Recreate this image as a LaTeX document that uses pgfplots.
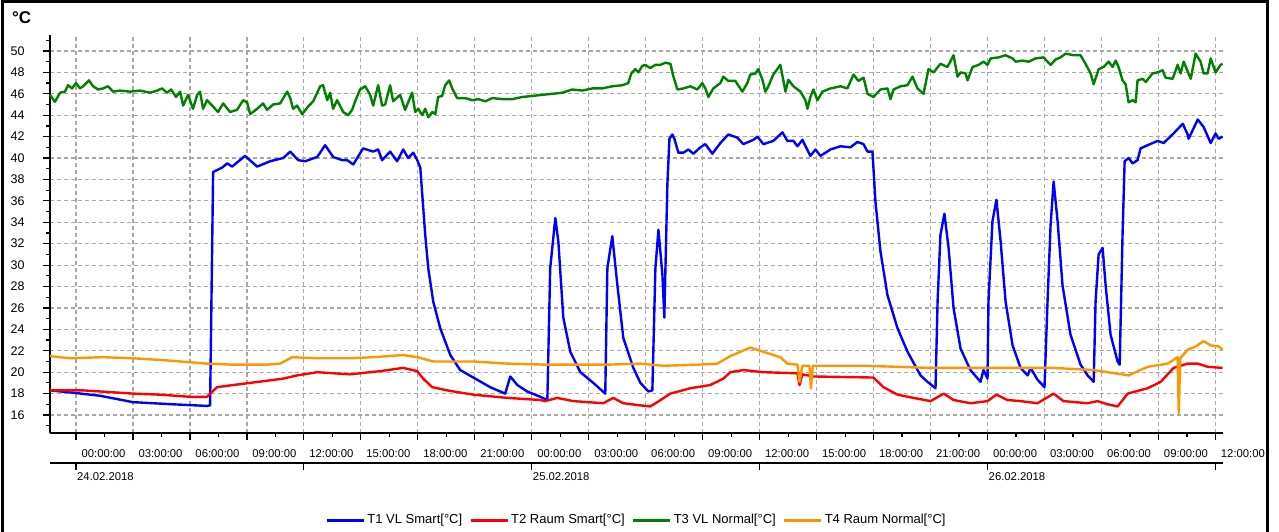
\documentclass[border=0pt]{standalone}
\usepackage{pgfplots}
\pgfplotsset{compat=1.18}
\usepackage{fontspec}
\setmainfont{Liberation Sans}
\definecolor{gridgray}{RGB}{168,168,168}
\definecolor{tblue}{RGB}{0,0,255}
\definecolor{tred}{RGB}{255,0,0}
\definecolor{tgreen}{RGB}{0,128,0}
\definecolor{torange}{RGB}{255,150,0}
\begin{document}
\begin{tikzpicture}[x=1pt,y=1pt]
\begin{axis}[
  scale only axis, width=1173pt, height=398pt,
  xmin=-1.37, xmax=60.4, ymin=14.32, ymax=51.49,
  axis lines*=left,
  axis line style={black, line width=1.3pt},
  clip=false,
  xtick={0,3,...,60},
  minor xtick={1.5,4.5,...,58.5},
  xticklabels={00:00:00,03:00:00,06:00:00,09:00:00,12:00:00,15:00:00,18:00:00,21:00:00,00:00:00,03:00:00,06:00:00,09:00:00,12:00:00,15:00:00,18:00:00,21:00:00,00:00:00,03:00:00,06:00:00,09:00:00,12:00:00},
  ytick={16,18,...,50},
  minor ytick={15,17,...,51},
  tick align=outside,
  major tick length=7pt, minor tick length=4pt,
  tick style={black, line width=1.2pt},
  grid=major,
  major grid style={gridgray, line width=1.2pt, dash pattern=on 4pt off 3pt},
  /pgf/number format/assume math mode=true,
  yticklabel style={font=\fontsize{12.5}{12.5}\selectfont, xshift=-15pt},
  xticklabel style={font=\fontsize{11.3}{12}\selectfont, anchor=north west, xshift=2pt, yshift=-6pt},
  legend columns=4,
  legend style={at={(0.5,-0.2186)}, anchor=center, draw=none, fill=none,
    font=\fontsize{13}{13}\selectfont, /tikz/every even column/.append style={column sep=5pt}},
  legend image code/.code={\draw[line width=3pt, #1] (0pt,0pt) -- (37pt,0pt);},
  every axis plot/.append style={line width=2.4pt, line join=round},
]
% T1 VL Smart
\addplot[tblue] coordinates {
(-1.37,18.3)(0,18.05)(1.26,17.8)(3.00,17.2)(5.11,17.0)(6.90,16.85)(7.06,16.9)(7.22,38.7)(7.69,39.1)(7.96,39.5)(8.22,39.2)(8.90,40.2)(9.54,39.2)(10.22,39.7)(10.91,40.0)(11.28,40.6)(11.70,39.8)(12.07,39.7)(12.70,40.1)(13.12,41.2)(13.54,40.1)(14.02,39.8)(14.28,39.8)(14.60,39.4)(15.12,40.9)(15.65,40.6)(15.91,40.8)(16.12,39.8)(16.54,40.6)(16.91,39.7)(17.23,40.8)(17.49,40.0)(17.76,40.5)(17.97,39.8)(18.13,39.1)(18.39,32.8)(18.55,29.7)(18.81,26.6)(19.18,24.1)(19.71,21.6)(20.23,20.2)(20.92,19.5)(21.81,18.6)(22.60,18.0)(22.87,19.6)(23.24,18.8)(23.76,18.2)(24.45,17.7)(24.82,17.4)(24.97,29.7)(25.24,34.4)(25.40,32.2)(25.66,25.1)(26.03,21.9)(26.56,20.0)(27.24,19.0)(27.87,18.0)(27.98,29.7)(28.24,32.7)(28.51,28.1)(28.82,23.2)(29.35,20.4)(29.72,19.0)(30.14,18.2)(30.35,18.3)(30.51,29.7)(30.67,33.3)(30.88,29.1)(30.98,25.1)(31.14,37.5)(31.25,41.8)(31.40,42.2)(31.51,41.8)(31.72,40.5)(31.98,40.5)(32.25,40.8)(32.51,40.4)(32.88,41.0)(33.14,41.3)(33.51,40.4)(33.93,41.4)(34.35,42.2)(34.83,41.9)(35.14,41.3)(35.67,41.7)(35.88,42.0)(36.20,41.3)(36.72,41.6)(37.20,42.4)(37.46,41.6)(37.78,41.6)(37.99,41.1)(38.25,41.7)(38.67,40.2)(38.94,40.8)(39.20,40.2)(39.73,40.8)(40.26,41.1)(40.78,41.0)(41.15,41.5)(41.47,41.3)(41.68,40.6)(41.94,40.6)(42.10,35.9)(42.36,31.3)(42.73,27.2)(43.26,24.1)(43.79,21.9)(44.47,19.7)(44.84,19.1)(45.26,18.5)(45.37,26.6)(45.52,32.8)(45.73,34.8)(45.95,31.6)(46.21,26.0)(46.58,22.2)(47.10,20.2)(47.63,19.1)(47.79,20.2)(48.00,19.4)(48.05,26.6)(48.26,34.1)(48.47,36.1)(48.69,32.2)(48.95,26.6)(49.32,22.5)(49.74,20.4)(50.11,19.7)(50.27,20.4)(50.63,19.3)(51.00,18.6)(51.16,26.6)(51.32,33.7)(51.48,37.8)(51.69,34.1)(51.95,28.1)(52.37,23.5)(52.90,20.7)(53.27,19.7)(53.59,19.1)(53.69,26.6)(53.85,31.0)(54.06,31.6)(54.22,28.1)(54.48,23.5)(54.85,21.0)(54.96,20.7)(55.11,32.8)(55.22,39.7)(55.43,40.0)(55.64,39.5)(55.90,39.8)(56.06,40.9)(56.43,41.2)(56.96,41.6)(57.27,41.4)(57.80,42.3)(58.28,43.2)(58.54,42.2)(58.59,41.8)(59.07,43.6)(59.38,42.9)(59.75,41.4)(60.01,42.3)(60.17,41.8)(60.38,42.0)
};
\addlegendentry{T1 VL Smart[°C]}
% T2 Raum Smart
\addplot[tred] coordinates {
(-1.37,18.3)(0.37,18.3)(1.26,18.2)(3.00,18.0)(4.43,17.9)(6.01,17.7)(6.90,17.7)(7.06,18.0)(7.43,18.6)(8.27,18.8)(9.17,19.0)(10.06,19.2)(10.91,19.4)(11.64,19.7)(12.70,20.0)(13.54,19.9)(14.44,19.8)(14.96,19.9)(16.02,20.1)(17.23,20.4)(17.97,20.1)(18.28,19.4)(18.76,18.6)(19.55,18.3)(20.92,17.9)(22.71,17.6)(24.45,17.4)(24.71,17.3)(25.34,17.6)(26.19,17.3)(27.77,17.1)(28.29,17.6)(28.82,17.1)(29.72,16.9)(30.24,16.8)(30.61,17.2)(31.30,18.0)(32.35,18.5)(33.40,18.8)(34.09,19.4)(34.46,20.0)(35.14,20.2)(36.20,20.0)(37.99,19.9)(38.10,18.8)(38.25,19.8)(38.83,19.6)(41.99,19.5)(42.52,18.6)(43.26,17.9)(44.10,17.6)(45.00,17.3)(45.70,18.0)(46.21,17.4)(47.10,17.1)(48.00,17.3)(48.47,17.9)(49.05,17.4)(49.74,17.3)(50.63,17.1)(51.48,18.0)(52.00,17.3)(53.27,17.1)(53.80,17.3)(54.32,17.0)(54.85,16.8)(55.38,18.0)(56.43,18.5)(57.12,19.1)(57.80,20.4)(58.54,20.8)(59.07,20.8)(59.60,20.5)(60.38,20.4)
};
\addlegendentry{T2 Raum Smart[°C]}
% T3 VL Normal
\addplot[tgreen] coordinates {
(-1.37,45.9)(-1.11,45.25)(-0.84,46.1)(-0.58,46.2)(-0.42,46.8)(-0.21,46.5)(0,47.0)(0.21,46.5)(0.37,46.7)(0.68,47.25)(0.90,46.7)(1.16,46.4)(1.42,46.5)(1.69,46.7)(1.95,46.2)(2.32,46.3)(2.85,46.2)(3.37,46.3)(3.90,46.1)(4.27,46.3)(4.53,46.5)(4.79,46.1)(5.01,46.4)(5.27,45.7)(5.48,46.2)(5.64,44.9)(5.90,45.9)(6.16,44.6)(6.38,45.9)(6.53,46.2)(6.69,44.6)(6.90,45.4)(7.22,44.8)(7.48,44.3)(7.75,45.1)(8.11,44.3)(8.48,44.5)(8.80,45.4)(9.01,45.2)(9.17,44.1)(9.54,44.6)(9.85,45.1)(10.06,44.5)(10.38,45.0)(10.75,45.1)(11.12,46.2)(11.28,45.6)(11.43,44.6)(11.64,44.9)(11.91,44.1)(12.22,44.8)(12.49,45.3)(12.86,46.7)(13.01,46.8)(13.23,45.4)(13.38,46.1)(13.54,44.6)(13.75,45.4)(14.07,44.3)(14.33,44.0)(14.54,44.5)(14.70,45.3)(14.96,46.4)(15.23,46.7)(15.49,45.9)(15.65,44.9)(15.91,46.8)(16.12,44.9)(16.28,45.0)(16.54,46.8)(16.70,45.3)(17.07,45.9)(17.33,44.5)(17.70,46.1)(17.86,44.3)(18.02,44.6)(18.23,44.0)(18.39,44.6)(18.55,43.8)(18.76,44.3)(18.92,44.1)(19.07,45.7)(19.28,45.8)(19.44,46.8)(19.65,47.25)(19.81,46.5)(20.07,45.6)(20.50,45.6)(20.87,45.4)(21.18,45.5)(21.55,45.3)(21.92,45.6)(22.45,45.5)(22.97,45.5)(23.50,45.7)(24.03,45.8)(24.55,45.9)(25.08,46.0)(25.61,46.1)(26.13,46.4)(26.66,46.3)(27.19,46.5)(27.71,46.5)(28.24,46.7)(28.77,46.8)(29.08,47.0)(29.24,47.9)(29.45,48.3)(29.61,48.0)(29.82,48.6)(29.98,48.7)(30.24,48.4)(30.51,48.7)(30.77,48.7)(31.04,48.9)(31.30,48.8)(31.46,47.6)(31.67,46.4)(31.98,46.5)(32.35,46.7)(32.72,46.4)(32.98,47.0)(33.14,46.5)(33.30,45.7)(33.56,46.5)(33.93,47.0)(34.09,47.6)(34.35,47.2)(34.72,47.2)(35.09,46.2)(35.35,47.0)(35.51,47.8)(35.78,47.9)(35.93,48.3)(36.15,47.3)(36.30,46.2)(36.46,46.7)(36.72,47.8)(37.09,48.7)(37.36,46.2)(37.51,47.3)(37.78,46.7)(38.15,46.2)(38.41,45.4)(38.52,44.6)(38.67,45.7)(38.83,46.4)(39.04,45.4)(39.31,46.2)(39.73,46.5)(40.26,46.7)(40.62,46.5)(40.94,47.8)(41.20,47.2)(41.47,47.5)(41.68,46.0)(41.99,45.7)(42.36,46.4)(42.73,46.5)(42.89,45.5)(43.05,46.4)(43.42,46.7)(43.78,46.8)(44.05,47.6)(44.31,46.5)(44.63,46.0)(44.89,48.3)(45.16,48.0)(45.52,48.8)(45.89,48.5)(46.21,49.6)(46.42,47.6)(46.58,48.0)(46.84,47.9)(46.95,47.25)(47.21,48.5)(47.53,48.7)(47.79,49.0)(48.00,48.7)(48.16,49.3)(48.58,49.4)(48.95,49.6)(49.32,49.3)(49.48,49.0)(49.84,49.1)(50.16,49.0)(50.53,49.3)(50.95,49.4)(51.32,48.7)(51.58,49.2)(51.85,49.4)(52.11,49.75)(52.53,49.6)(52.90,49.6)(53.16,48.8)(53.43,47.9)(53.59,46.9)(53.85,48.3)(54.11,48.5)(54.38,49.0)(54.59,48.5)(54.75,49.1)(54.90,48.5)(55.11,47.25)(55.27,46.9)(55.43,45.2)(55.64,45.4)(55.80,45.2)(55.90,47.25)(56.17,47.4)(56.33,47.1)(56.69,47.9)(56.96,48.0)(57.22,48.2)(57.38,47.5)(57.75,47.4)(58.01,48.7)(58.17,47.9)(58.33,49.0)(58.54,48.1)(58.70,47.4)(58.96,49.75)(59.22,49.0)(59.38,47.9)(59.59,47.9)(59.75,49.3)(60.01,48.0)(60.27,48.7)(60.38,48.8)
};
\addlegendentry{T3 VL Normal[°C]}
% T4 Raum Normal
\addplot[torange] coordinates {
(-1.37,21.5)(-0.32,21.3)(1.42,21.4)(3.00,21.3)(4.79,21.1)(6.90,20.8)(8.27,20.7)(10.06,20.7)(10.75,20.8)(11.38,21.4)(12.70,21.3)(14.44,21.3)(15.65,21.4)(17.23,21.6)(17.97,21.4)(18.81,21.0)(20.92,21.0)(22.71,20.8)(24.82,20.7)(26.19,20.7)(27.98,20.7)(29.72,20.8)(30.93,20.6)(32.72,20.7)(33.77,20.8)(34.46,21.5)(35.51,22.3)(36.20,21.9)(37.09,21.4)(37.46,20.8)(37.99,20.7)(38.10,19.1)(38.25,20.6)(38.62,20.6)(38.70,18.5)(38.80,20.6)(39.73,20.6)(41.47,20.6)(43.26,20.5)(45.00,20.4)(48.00,20.4)(51.48,20.4)(53.59,20.2)(55.43,19.7)(56.43,20.5)(57.49,20.8)(58.01,21.4)(58.07,16.2)(58.15,21.3)(58.54,22.1)(58.96,22.4)(59.38,22.9)(59.75,22.5)(60.17,22.4)(60.38,22.1)
};
\addlegendentry{T4 Raum Normal[°C]}
\coordinate (SW) at (rel axis cs:0,0);
\coordinate (SE) at (rel axis cs:1,0);
\coordinate (D0) at (axis cs:0,14.32);
\coordinate (D12) at (axis cs:12,14.32);
\coordinate (D24) at (axis cs:24,14.32);
\coordinate (D36) at (axis cs:36,14.32);
\coordinate (D48) at (axis cs:48,14.32);
\coordinate (D60) at (axis cs:60,14.32);
\end{axis}
\pgfresetboundingbox
\begin{scope}[shift={(SW)}, shift={(-50pt,-98pt)}]
\useasboundingbox (0,0) rectangle (1279,531);
\draw[line width=3pt] (3,-5) -- (3,529.5) -- (1267,529.5) -- (1267,-5);
\node[font=\bfseries\fontsize{17}{17}\selectfont, anchor=west, inner sep=0pt] at (12,513) {°C};
\end{scope}
% secondary date axis
\draw[black, line width=1.3pt] ([yshift=-30pt]SW) -- ([yshift=-30pt]SE);
\draw[black, line width=1.2pt] ([yshift=-30pt]D0) -- ([yshift=-37pt]D0);
\draw[black, line width=1.2pt] ([yshift=-30pt]D12) -- ([yshift=-37pt]D12);
\draw[black, line width=1.2pt] ([yshift=-30pt]D24) -- ([yshift=-37pt]D24);
\draw[black, line width=1.2pt] ([yshift=-30pt]D36) -- ([yshift=-37pt]D36);
\draw[black, line width=1.2pt] ([yshift=-30pt]D48) -- ([yshift=-37pt]D48);
\draw[black, line width=1.2pt] ([yshift=-30pt]D60) -- ([yshift=-37pt]D60);
\node[anchor=west, inner sep=0pt, font=\fontsize{11.3}{12}\selectfont] at ([xshift=1pt,yshift=-44pt]D0) {24.02.2018};
\node[anchor=west, inner sep=0pt, font=\fontsize{11.3}{12}\selectfont] at ([xshift=1pt,yshift=-44pt]D24) {25.02.2018};
\node[anchor=west, inner sep=0pt, font=\fontsize{11.3}{12}\selectfont] at ([xshift=1pt,yshift=-44pt]D48) {26.02.2018};
\end{tikzpicture}
\end{document}
